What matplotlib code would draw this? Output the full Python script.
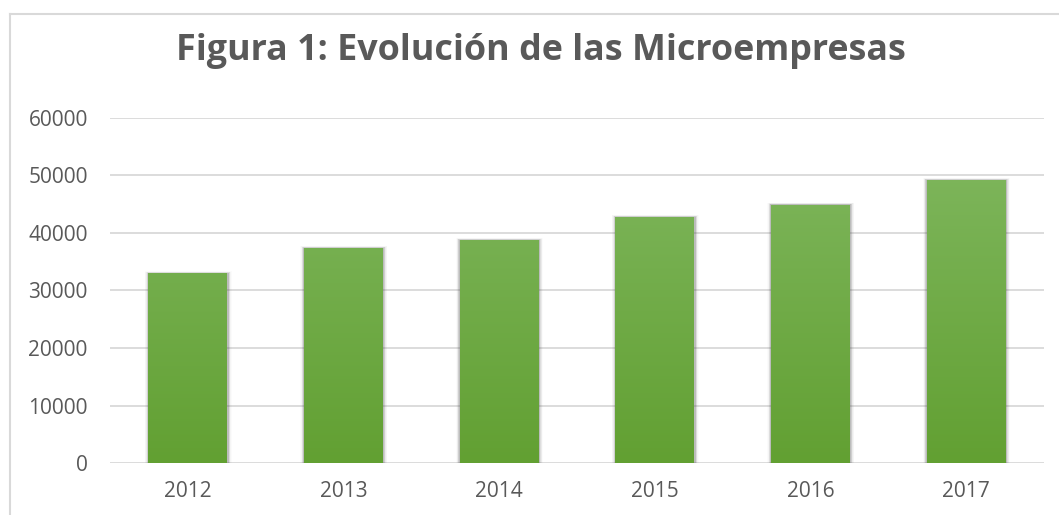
import numpy as np
import matplotlib.pyplot as plt
from matplotlib.patches import Rectangle

years = ['2012', '2013', '2014', '2015', '2016', '2017']
values = [33000, 37400, 38800, 42800, 44900, 49200]
yticks = [0, 10000, 20000, 30000, 40000, 50000, 60000]

W, H = 1059, 515
fig = plt.figure(figsize=(W / 100, H / 100), dpi=100)
ax = fig.add_axes([110 / W, 1 - 463 / H, (1044 - 110) / W, (463 - 118) / H])

# outer chart border (only left and top visible, picture is cropped)
fig.add_artist(plt.Line2D([9.5 / W, 9.5 / W], [0, 1 - 13.5 / H], color='#d9d9d9', lw=1.5))
fig.add_artist(plt.Line2D([9.5 / W, 1], [1 - 13.5 / H, 1 - 13.5 / H], color='#d9d9d9', lw=1.5))

x = np.arange(len(years))
bw = 0.507
ax.set_xlim(-0.5, len(years) - 0.5)
ax.set_ylim(0, 60000)

for v in yticks:
    ax.axhline(v, color='#d9d9d9', lw=1.3, zorder=0)

# soft shadow
for i, v in enumerate(values):
    for k, a in zip(range(1, 7), [0.12, 0.09, 0.07, 0.05, 0.03, 0.02]):
        dx = k * 0.004
        ax.add_patch(Rectangle((x[i] - bw / 2 - dx, 0), bw + 2 * dx + 0.004, v + k * 60,
                               facecolor='#404040', edgecolor='none', alpha=a, zorder=1))

# gradient fill
top = np.array([130, 185, 98]) / 255
bot = np.array([98, 160, 50]) / 255
t = np.linspace(0, 1, 256)[:, None]
grad = (bot * (1 - t) + top * t)[:, None, :]
grad = np.repeat(grad, 2, axis=1)
bars = ax.bar(x, values, width=bw, color='none', zorder=2)
for b, v in zip(bars, values):
    im = ax.imshow(grad, extent=[b.get_x(), b.get_x() + bw, 0, 60000], origin='lower',
                   aspect='auto', zorder=2)
    im.set_clip_path(b)

ax.set_xlim(-0.5, len(years) - 0.5)
ax.set_ylim(0, 60000)

ax.set_xticks(x)
ax.set_xticklabels(years)
ax.set_yticks(yticks)
ax.set_yticklabels([str(v) for v in yticks])
for s in ax.spines.values():
    s.set_visible(False)
ax.tick_params(length=0, colors='#595959', labelsize=15)
ax.tick_params(axis='y', pad=16)
ax.tick_params(axis='x', pad=13)
for lab in ax.get_xticklabels() + ax.get_yticklabels():
    lab.set_family('Open Sans')

fig.text(541 / W, 1 - 51 / H, 'Figura 1: Evolución de las Microempresas', ha='center', va='center',
         fontsize=25.8, fontweight='bold', color='#595959', family='Open Sans')

fig.savefig('out.png', dpi=100)
